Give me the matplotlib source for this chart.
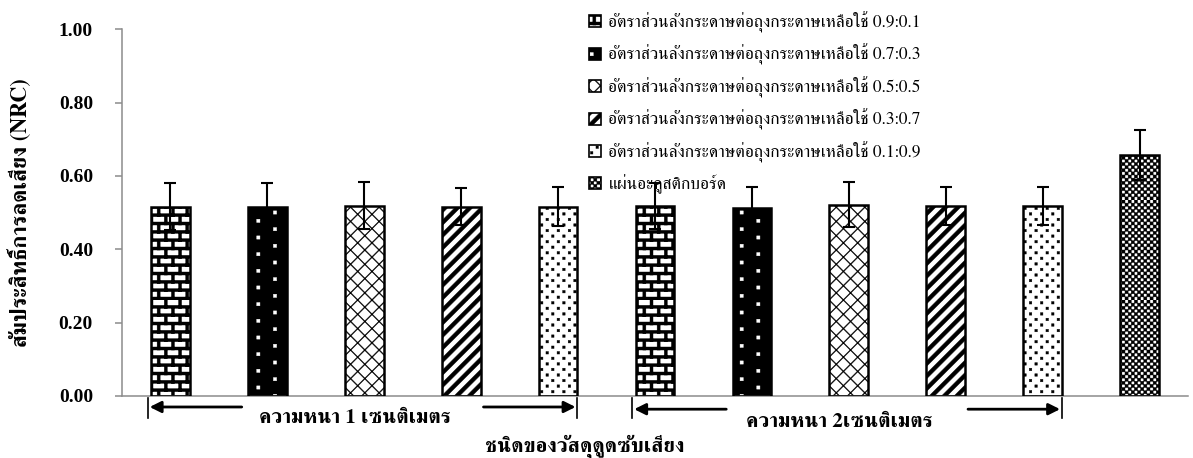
import warnings
import numpy as np
import matplotlib
matplotlib.use('Agg')
import matplotlib.pyplot as plt
import matplotlib.hatch as mhatch
import matplotlib.transforms as mtransforms
from matplotlib.path import Path
from matplotlib.patches import Patch
from matplotlib.legend_handler import HandlerTuple

warnings.filterwarnings('ignore', message='hatch must consist')

# ---- data ----
ratios = ['0.9:0.1', '0.7:0.3', '0.5:0.5', '0.3:0.7', '0.1:0.9']
nrc_1cm = [0.516, 0.516, 0.519, 0.516, 0.516]
sd_1cm = [0.064, 0.064, 0.064, 0.051, 0.053]
nrc_2cm = [0.519, 0.513, 0.522, 0.518, 0.518]
sd_2cm = [0.063, 0.056, 0.062, 0.051, 0.051]
nrc_board = [0.657]
sd_board = [0.069]

legend_labels = ['อัตราส่วนลังกระดาษต่อถุงกระดาษเหลือใช้ ' + r for r in ratios]
legend_labels.append('แผ่นอะคูสติกบอร์ด')
group_labels = ['ความหนา 1 เซนติเมตร', 'ความหนา 2เซนติเมตร']
xlabel = 'ชนิดของวัสดุดูดซับเสียง'
ylabel = 'สัมประสิทธิ์การลดเสียง (NRC)'


# ---- custom hatch tiles (unit square = one hatch tile) ----
def rect(x0, y0, x1, y1):
    return [(x0, y0), (x1, y0), (x1, y1), (x0, y1)]


def bricks(nrow=12, ncol=7, t=0.03):
    polys = []
    h, w = 1 / nrow, 1 / ncol
    for r in range(nrow):
        y = r * h
        polys.append(rect(-0.1, y, 1.1, y + t))
        off = (r % 2) * w / 2
        for c in range(ncol + 1):
            x = c * w + off
            polys.append(rect(x, y, x + t, y + h))
    return polys


def dots(nrow, ncol, s):
    polys = []
    for r in range(nrow):
        off = (r % 2) * 0.5 / ncol
        y = (r + 0.5) / nrow
        for c in range(ncol + 1):
            x = (c + 0.25) / ncol + off
            polys.append(rect(x - s / 2, y - s / 2, x + s / 2, y + s / 2))
    return polys


def stripes(n, w, up=True):
    polys = []
    for k in range(-n - 1, n + 1):
        x0 = k / n
        if up:
            polys.append([(x0, 0), (x0 + w, 0), (x0 + w + 1, 1), (x0 + 1, 1)])
        else:
            polys.append([(x0, 1), (x0 + w, 1), (x0 + w + 1, 0), (x0 + 1, 0)])
    return polys


def checker(n):
    s = 1 / n
    return [rect(i * s, j * s, (i + 1) * s, (j + 1) * s)
            for i in range(n) for j in range(n) if (i + j) % 2 == 0]


class TileHatch(mhatch.HatchPatternBase):
    shapes = {
        'b': bricks(),
        'w': dots(12, 3, 0.032),
        's': stripes(7, 0.011, True) + stripes(7, 0.011, False),
        'd': stripes(8, 0.055, True),
        'p': dots(18, 9, 0.025),
        'c': checker(32),
    }

    def __init__(self, hatch, density):
        self.polys = [p for ch in hatch for p in self.shapes.get(ch, [])]
        self.num_vertices = sum(len(p) + 1 for p in self.polys)

    def set_vertices_and_codes(self, vertices, codes):
        i = 0
        for p in self.polys:
            n = len(p)
            vertices[i:i + n] = p
            vertices[i + n] = p[0]
            codes[i] = Path.MOVETO
            codes[i + 1:i + n] = Path.LINETO
            codes[i + n] = Path.CLOSEPOLY
            i += n + 1


mhatch._hatch_types.append(TileHatch)
plt.rcParams['hatch.linewidth'] = 0.3

thai_family = ['FreeSerif', 'Liberation Serif', 'DejaVu Sans']

# styles per material: (face, hatch colour, hatch code)
styles = [('white', 'black', 'b'), ('black', 'white', 'w'), ('white', 'black', 's'),
          ('white', 'black', 'd'), ('white', 'black', 'p'), ('white', 'black', 'c')]

values = nrc_1cm + nrc_2cm + nrc_board
errors = sd_1cm + sd_2cm + sd_board
style_idx = list(range(5)) + list(range(5)) + [5]
x = np.arange(len(values))
width = 0.4

fig = plt.figure(figsize=(11.93, 4.58), dpi=100)
ax = fig.add_axes([0.1023, 0.1354, 0.8935, 0.8007])

for xi, v, e, si in zip(x, values, errors, style_idx):
    face, hc, h = styles[si]
    ax.bar(xi, v, width, color=face, edgecolor=hc, hatch=h, linewidth=0, zorder=2)
    ax.bar(xi, v, width, fill=False, edgecolor='black', linewidth=1.8, zorder=3,
           yerr=e, capsize=4.3,
           error_kw=dict(elinewidth=1.5, capthick=1.5, ecolor='black', zorder=4))

ax.set_xlim(-0.5, 10.5)
ax.set_ylim(0, 1.0)
ax.set_yticks(np.arange(0, 1.01, 0.2))
ax.set_yticklabels([f'{t:.2f}' for t in np.arange(0, 1.01, 0.2)],
                   fontfamily='Liberation Serif', fontweight='bold', fontsize=14)
ax.set_xticks([])
for s in ['top', 'right']:
    ax.spines[s].set_visible(False)
for s in ['left', 'bottom']:
    ax.spines[s].set_color('#8c8c8c')
    ax.spines[s].set_linewidth(1.1)
ax.tick_params(axis='y', direction='out', length=5, width=1.1, color='#8c8c8c', pad=16)

# thickness group brackets below the axis
trans = mtransforms.blended_transform_factory(ax.transData, ax.transAxes)
groups = [(0, 4), (5, 9)]
arrow_y = [-0.030, -0.036]
text_y = [-0.060, -0.070]
for (g0, g1), lab, ay, ty in zip(groups, group_labels, arrow_y, text_y):
    left, right = g0 - 0.235, g1 + 0.2
    for xb in (left, right):
        ax.plot([xb, xb], [-0.005, -0.06], color='black', lw=1.2,
                transform=trans, clip_on=False)
    arrow = dict(arrowstyle='-|>', color='black', lw=2, mutation_scale=17,
                 shrinkA=0, shrinkB=0)
    ax.annotate('', xy=(left + 0.02, ay), xytext=(left + 0.97, ay),
                xycoords=trans, textcoords=trans, arrowprops=arrow)
    ax.annotate('', xy=(right - 0.02, ay), xytext=(right - 0.97, ay),
                xycoords=trans, textcoords=trans, arrowprops=arrow)
    ax.text((left + right) / 2 - 0.08, ty, lab, transform=trans, ha='center',
            va='center', fontsize=15, fontweight='bold', family=thai_family)

fig.text(585 / 1193, 1 - 446 / 458, xlabel, ha='center', va='center',
         fontsize=15, fontweight='bold', family=thai_family)
fig.text(20 / 1193, 1 - 213 / 458, ylabel, ha='center', va='center', rotation=90,
         fontsize=16, fontweight='bold', family=thai_family)

handles = []
for face, hc, h in styles:
    handles.append((Patch(facecolor=face, edgecolor=hc, hatch=h, linewidth=0),
                    Patch(fill=False, edgecolor='black', linewidth=1.2)))
ax.legend(handles, legend_labels, handler_map={tuple: HandlerTuple(ndivide=1, pad=0)},
          loc='upper left', bbox_to_anchor=(578 / 1193, 1.0), bbox_transform=fig.transFigure,
          frameon=False, prop=dict(family=thai_family, size=12.5),
          handlelength=0.7, handleheight=0.7, handletextpad=0.4, labelspacing=0.64,
          borderaxespad=0.25)

fig.savefig('out.png', dpi=100)
